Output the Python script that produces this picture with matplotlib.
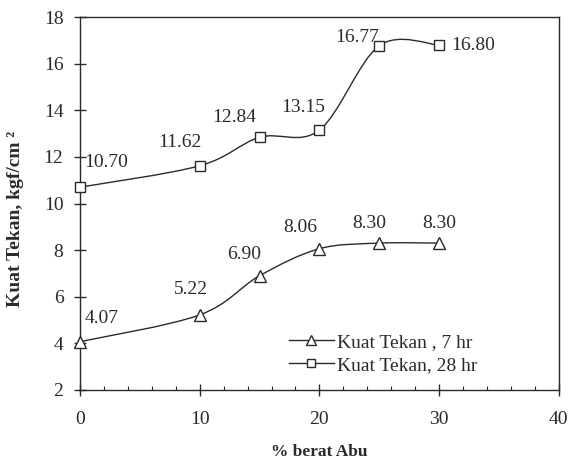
import matplotlib
matplotlib.use("Agg")
import matplotlib.pyplot as plt
from matplotlib.path import Path
from matplotlib.patches import PathPatch
from matplotlib.lines import Line2D
from matplotlib.ticker import MultipleLocator

plt.rcParams['font.family'] = ['Liberation Serif', 'DejaVu Serif']

abu = [0, 10, 15, 20, 25, 30]
kuat_7 = [4.07, 5.22, 6.90, 8.06, 8.30, 8.30]
kuat_28 = [10.70, 11.62, 12.84, 13.15, 16.77, 16.80]
label_7 = ["4.07", "5.22", "6.90", "8.06", "8.30", "8.30"]
label_28 = ["10.70", "11.62", "12.84", "13.15", "16.77", "16.80"]

ink = '#2a2a2a'


def smooth_path(xs, ys):
    # catmull-rom style curve through the points, like a spreadsheet "smoothed line"
    pts = list(zip(xs, ys))
    verts = [pts[0]]
    codes = [Path.MOVETO]
    n = len(pts)
    for i in range(n - 1):
        p0 = pts[i - 1] if i > 0 else pts[i]
        p1 = pts[i]
        p2 = pts[i + 1]
        p3 = pts[i + 2] if i + 2 < n else pts[i + 1]
        c1 = (p1[0] + (p2[0] - p0[0]) / 6, p1[1] + (p2[1] - p0[1]) / 6)
        c2 = (p2[0] - (p3[0] - p1[0]) / 6, p2[1] - (p3[1] - p1[1]) / 6)
        verts += [c1, c2, p2]
        codes += [Path.CURVE4] * 3
    return Path(verts, codes)


fig = plt.figure(figsize=(5.76, 4.62), dpi=100)
ax = fig.add_axes([0.139, 0.156, 0.831, 0.807])

for ys in (kuat_7, kuat_28):
    ax.add_patch(PathPatch(smooth_path(abu, ys), facecolor='none',
                           edgecolor=ink, lw=1.0, zorder=2))

ax.plot(abu, kuat_7, ls='none', marker='^', ms=8, mfc='white', mec=ink, mew=1.0,
        zorder=3, clip_on=False)
ax.plot(abu, kuat_28, ls='none', marker='s', ms=7, mfc='white', mec=ink, mew=1.0,
        zorder=3, clip_on=False)

# label offsets in points (dx, dy, ha)
off_7 = [(3, 17, 'left'), (-6, 18, 'center'), (-11, 15, 'center'),
         (-14, 15, 'center'), (-7, 14, 'center'), (0, 14, 'center')]
off_28 = [(3, 18, 'left'), (-14, 17, 'center'), (-18, 14, 'center'),
          (-12, 16, 'center'), (-16, 6, 'center'), (9, 0, 'left')]

for xs, ys, labs, offs in ((abu, kuat_7, label_7, off_7), (abu, kuat_28, label_28, off_28)):
    for x, y, t, (dx, dy, ha) in zip(xs, ys, labs, offs):
        ax.annotate(t, (x, y), xytext=(dx, dy), textcoords='offset points',
                    ha=ha, va='center', fontsize=14, color=ink)

ax.set_xlim(0, 40)
ax.set_ylim(2, 18)
ax.xaxis.set_major_locator(MultipleLocator(10))
ax.xaxis.set_minor_locator(MultipleLocator(2))
ax.yaxis.set_major_locator(MultipleLocator(2))
ax.tick_params(axis='both', which='major', direction='inout', length=8, width=1,
               labelsize=14, colors=ink)
ax.tick_params(axis='x', which='major', pad=11)
ax.tick_params(axis='y', which='major', pad=8)
ax.tick_params(axis='x', which='minor', direction='in', length=3, width=0.8, colors=ink)
for s in ax.spines.values():
    s.set_color(ink)
    s.set_linewidth(1.0)

ax.set_xlabel('% berat Abu', fontsize=12.5, fontweight='bold', color=ink)
ax.xaxis.set_label_coords(0.5, -0.145)
ax.set_ylabel('Kuat Tekan, kgf/cm ²', fontsize=14, fontweight='bold', color=ink)
ax.yaxis.set_label_coords(-0.118, 0.46)

handles = [
    Line2D([], [], color=ink, lw=1.0, marker='^', ms=7, mfc='white', mec=ink),
    Line2D([], [], color=ink, lw=1.0, marker='s', ms=6, mfc='white', mec=ink),
]
ax.legend(handles, ['Kuat Tekan , 7 hr', 'Kuat Tekan, 28 hr'], loc='lower left',
          bbox_to_anchor=(0.4, -0.005), frameon=False, fontsize=14,
          handlelength=2.3, handletextpad=0.15, labelspacing=0.3, labelcolor=ink)

fig.savefig('out.png', dpi=100)
